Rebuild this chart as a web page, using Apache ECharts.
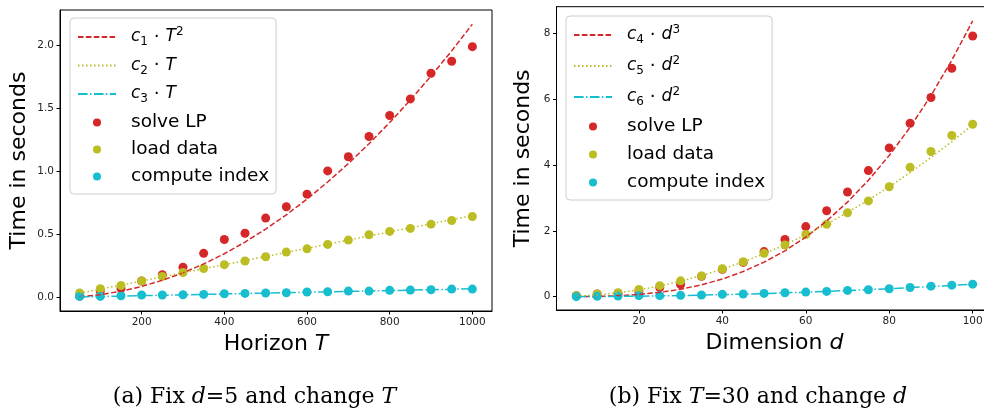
<!DOCTYPE html>
<html>
<head>
<meta charset="utf-8">
<script src="https://cdn.jsdelivr.net/npm/echarts@6/dist/echarts.min.js"></script>
<style>
    html, body { margin: 0; padding: 0; background: #fff; }
    #chart { width: 984px; height: 413px; }
</style>
</head>
<body>
<div id="chart"></div>
<script>
// panel (a): fix d=5, change T
const horizon = [50, 100, 150, 200, 250, 300, 350, 400, 450, 500, 550, 600, 650, 700, 750, 800, 850, 900, 950, 1000];
const solveLpT = [0.01, 0.05, 0.07, 0.13, 0.18, 0.24, 0.35, 0.46, 0.51, 0.63, 0.72, 0.82, 1.005, 1.117, 1.278, 1.445, 1.577, 1.781, 1.876, 1.992];
const loadDataT = [0.035, 0.069, 0.095, 0.13, 0.167, 0.198, 0.23, 0.26, 0.289, 0.323, 0.36, 0.386, 0.421, 0.455, 0.498, 0.524, 0.548, 0.582, 0.611, 0.643];
const computeIndexT = [0.008, 0.008, 0.013, 0.019, 0.019, 0.021, 0.024, 0.029, 0.032, 0.035, 0.037, 0.043, 0.045, 0.05, 0.05, 0.056, 0.058, 0.061, 0.066, 0.066];
const fitC1 = [0.005, 0.022, 0.049, 0.087, 0.136, 0.195, 0.266, 0.347, 0.439, 0.543, 0.656, 0.781, 0.917, 1.063, 1.221, 1.389, 1.568, 1.758, 1.958, 2.17];
const fitC2 = [0.033, 0.065, 0.098, 0.13, 0.163, 0.195, 0.228, 0.26, 0.293, 0.325, 0.358, 0.39, 0.423, 0.455, 0.488, 0.52, 0.553, 0.585, 0.618, 0.65];
const fitC3 = [0.003, 0.007, 0.01, 0.014, 0.017, 0.02, 0.024, 0.027, 0.031, 0.034, 0.037, 0.041, 0.044, 0.048, 0.051, 0.054, 0.058, 0.061, 0.065, 0.068];

// panel (b): fix T=30, change d
const dimension = [5, 10, 15, 20, 25, 30, 35, 40, 45, 50, 55, 60, 65, 70, 75, 80, 85, 90, 95, 100];
const solveLpD = [0.03, 0.08, 0.1, 0.15, 0.28, 0.37, 0.62, 0.83, 1.04, 1.37, 1.74, 2.13, 2.61, 3.18, 3.83, 4.52, 5.27, 6.05, 6.94, 7.92];
const loadDataD = [0.03, 0.08, 0.12, 0.22, 0.335, 0.48, 0.63, 0.85, 1.06, 1.32, 1.57, 1.89, 2.2, 2.55, 2.91, 3.34, 3.93, 4.41, 4.9, 5.24];
const computeIndexD = [0.0, 0.01, 0.02, 0.03, 0.03, 0.04, 0.05, 0.07, 0.08, 0.1, 0.12, 0.14, 0.16, 0.19, 0.21, 0.24, 0.28, 0.32, 0.35, 0.38];
const fitC4 = [0.001, 0.008, 0.028, 0.067, 0.131, 0.226, 0.359, 0.536, 0.764, 1.048, 1.394, 1.81, 2.301, 2.874, 3.535, 4.291, 5.147, 6.109, 7.185, 8.38];
const fitC5 = [0.013, 0.052, 0.117, 0.209, 0.326, 0.47, 0.639, 0.835, 1.057, 1.305, 1.579, 1.879, 2.205, 2.558, 2.936, 3.341, 3.771, 4.228, 4.711, 5.22];
const fitC6 = [0.001, 0.004, 0.009, 0.015, 0.024, 0.034, 0.047, 0.061, 0.077, 0.095, 0.115, 0.137, 0.161, 0.186, 0.214, 0.243, 0.275, 0.308, 0.343, 0.38];

// ticks
const ticksT = [200, 400, 600, 800, 1000];
const ticksTimeA = [0, 0.5, 1, 1.5, 2];
const ticksD = [20, 40, 60, 80, 100];
const ticksTimeB = [0, 2, 4, 6, 8];

const RED = '#d62728', OLIVE = '#bcbd22', CYAN = '#17becf';
const SANS = 'DejaVu Sans';

const pairs = (xs, ys) => xs.map((x, i) => [x, ys[i]]);

const legendText = {
    c1: '{g| }{m|c}{sub|1}{t| · }{m|T}{sup|2}',
    c2: '{g| }{m|c}{sub|2}{t| · }{m|T}',
    c3: '{g| }{m|c}{sub|3}{t| · }{m|T}',
    c4: '{g| }{m|c}{sub|4}{t| · }{m|d}{sup|3}',
    c5: '{g| }{m|c}{sub|5}{t| · }{m|d}{sup|2}',
    c6: '{g| }{m|c}{sub|6}{t| · }{m|d}{sup|2}'
};

const richLegend = {
    g: { width: 10 },
    t: { fontFamily: SANS, fontSize: 18.5, color: '#000', lineHeight: 22 },
    m: { fontFamily: SANS, fontStyle: 'italic', fontSize: 17, color: '#000', lineHeight: 22 },
    sub: { fontFamily: SANS, fontSize: 12, color: '#000', lineHeight: 12, verticalAlign: 'bottom' },
    sup: { fontFamily: SANS, fontSize: 12, color: '#000', lineHeight: 12, verticalAlign: 'top' }
};

// fit lines: hide the marker that the legend puts on line icons
const lineItem = (name) => ({ name: name, itemStyle: { opacity: 0 } });

const makeLegend = (names, left, top, gap) => ({
    data: names.map((n) => (legendText[n] ? lineItem(n) : n)),
    orient: 'vertical',
    left: left,
    top: top,
    itemWidth: 38,
    itemHeight: 8,
    itemGap: gap,
    padding: [8, 7, 8, 7],
    backgroundColor: 'rgba(255,255,255,0.8)',
    borderColor: '#cccccc',
    borderWidth: 1,
    borderRadius: 4,
    formatter: (name) => legendText[name] || ('{g| }{t|' + name + '}'),
    textStyle: { rich: richLegend }
});

const xAxisOf = (grid, min, max, ticks, title) => ({
    type: 'value',
    gridIndex: grid,
    min: min,
    max: max,
    splitLine: { show: false },
    axisLine: { show: true, onZero: false, lineStyle: { color: '#000', width: 1 } },
    axisTick: { length: 3.5, customValues: ticks, lineStyle: { color: '#000' } },
    axisLabel: {
        customValues: ticks, margin: 6, fontFamily: SANS, fontSize: 10.5, color: '#222',
        formatter: (v) => String(v)
    },
    name: title,
    nameLocation: 'middle',
    nameGap: 19,
    nameTextStyle: {
        rich: {
            t: { fontFamily: SANS, fontSize: 22, color: '#000' },
            i: { fontFamily: SANS, fontSize: 22, fontStyle: 'italic', color: '#000' }
        }
    }
});

const yAxisOf = (grid, min, max, ticks, digits, gap) => ({
    type: 'value',
    gridIndex: grid,
    min: min,
    max: max,
    splitLine: { show: false },
    axisLine: { show: true, onZero: false, lineStyle: { color: '#000', width: 1 } },
    axisTick: { length: 3.5, customValues: ticks, lineStyle: { color: '#000' } },
    axisLabel: {
        customValues: ticks, margin: 6, fontFamily: SANS, fontSize: 10.5, color: '#222',
        formatter: (v) => v.toFixed(digits)
    },
    name: 'Time in seconds',
    nameLocation: 'middle',
    nameGap: gap,
    nameTextStyle: { fontFamily: SANS, fontSize: 22, color: '#000' }
});

const dots = (name, axis, xs, ys, color) => ({
    name: name,
    type: 'scatter',
    xAxisIndex: axis,
    yAxisIndex: axis,
    data: pairs(xs, ys),
    symbolSize: 9,
    itemStyle: { color: color, opacity: 1 },
    z: 2
});

const fit = (name, axis, xs, ys, color, dash) => ({
    name: name,
    type: 'line',
    xAxisIndex: axis,
    yAxisIndex: axis,
    data: pairs(xs, ys),
    symbol: 'none',
    itemStyle: { color: color },
    lineStyle: { color: color, width: 1.5, type: dash },
    z: 3
});

const DASHED = [5.5, 2.4];
const DOTTED = [1.5, 2.5];
const DASHDOT = [9.6, 2.4, 1.5, 2.4];

const captionStyle = {
    fontFamily: 'DejaVu Serif', fontSize: 22, fontWeight: 'normal', color: '#000',
    rich: { i: { fontFamily: 'DejaVu Serif', fontStyle: 'italic', fontSize: 22, color: '#000' } }
};

const chart = echarts.init(document.getElementById('chart'));
chart.setOption({
    animation: false,
    backgroundColor: '#fff',
    grid: [
        { left: 60, top: 10, width: 432, height: 301, show: true, borderColor: '#000', borderWidth: 1, outerBoundsMode: 'none' },
        { left: 556.5, top: 6.7, width: 436, height: 303.3, show: true, borderColor: '#000', borderWidth: 1, outerBoundsMode: 'none' }
    ],
    xAxis: [
        xAxisOf(0, 2.5, 1047.5, ticksT, '{t|Horizon }{i|T}'),
        xAxisOf(1, 0.25, 104.75, ticksD, '{t|Dimension }{i|d}')
    ],
    yAxis: [
        yAxisOf(0, -0.108, 2.283, ticksTimeA, 1, 30),
        yAxisOf(1, -0.405, 8.81, ticksTimeB, 0, 22)
    ],
    legend: [
        makeLegend(['c1', 'c2', 'c3', 'solve LP', 'load data', 'compute index'], 70, 18, 8),
        makeLegend(['c4', 'c5', 'c6', 'solve LP', 'load data', 'compute index'], 566, 16, 9)
    ],
    title: [
        { text: '(a) Fix {i|d}=5 and change {i|T}', left: 249.5, top: 381, textAlign: 'center', textStyle: captionStyle },
        { text: '(b) Fix {i|T}=30 and change {i|d}', left: 753, top: 381, textAlign: 'center', textStyle: captionStyle }
    ],
    series: [
        dots('solve LP', 0, horizon, solveLpT, RED),
        dots('load data', 0, horizon, loadDataT, OLIVE),
        dots('compute index', 0, horizon, computeIndexT, CYAN),
        fit('c1', 0, horizon, fitC1, RED, DASHED),
        fit('c2', 0, horizon, fitC2, OLIVE, DOTTED),
        fit('c3', 0, horizon, fitC3, CYAN, DASHDOT),
        dots('solve LP', 1, dimension, solveLpD, RED),
        dots('load data', 1, dimension, loadDataD, OLIVE),
        dots('compute index', 1, dimension, computeIndexD, CYAN),
        fit('c4', 1, dimension, fitC4, RED, DASHED),
        fit('c5', 1, dimension, fitC5, OLIVE, DOTTED),
        fit('c6', 1, dimension, fitC6, CYAN, DASHDOT)
    ]
});
window.onresize = () => chart.resize();
</script>
</body>
</html>
